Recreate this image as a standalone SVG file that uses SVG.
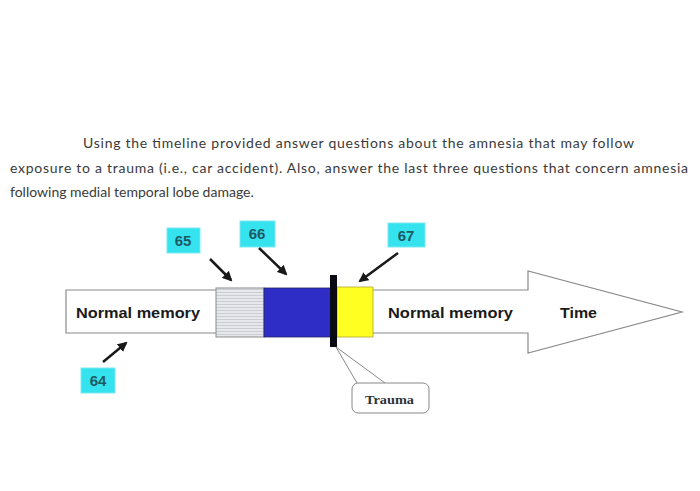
<svg xmlns="http://www.w3.org/2000/svg" width="700" height="491" viewBox="0 0 700 491">
<defs>
<style>
.intro{font-family:Lato,"Liberation Sans",sans-serif;font-size:14px;fill:#3a3a3a}
.lbl{font-family:"Liberation Sans",Arial,sans-serif;font-weight:bold;font-size:15px;fill:#1d5a63}
.tag{fill:#35e3ef;stroke:#7be9ef;stroke-width:1}
.big{font-family:"Liberation Sans",Arial,sans-serif;font-weight:bold;font-size:15px;fill:#1a1a1a}
.ptr{stroke:#1a1a1a;stroke-width:2.5;fill:none;marker-end:url(#ah)}
</style>
<marker id="ah" viewBox="0 0 10 10" refX="8" refY="5" markerWidth="4" markerHeight="4" orient="auto">
<path d="M0,0 L10,5 L0,10 z" fill="#1a1a1a"/>
</marker>
<pattern id="stripes" width="6" height="3" patternUnits="userSpaceOnUse">
<rect width="6" height="3" fill="#e6e8ec"/>
<line x1="0" y1="1.5" x2="6" y2="1.5" stroke="#c4c7cc" stroke-width="0.8"/>
</pattern>
</defs>
<rect width="700" height="491" fill="#ffffff"/>
<g id="intro">
<text class="intro" x="83" y="148" textLength="551" lengthAdjust="spacing">Using the timeline provided answer questions about the amnesia that may follow</text>
<text class="intro" x="10" y="173" textLength="678" lengthAdjust="spacing">exposure to a trauma (i.e., car accident).  Also, answer the last three questions that concern amnesia</text>
<text class="intro" x="10" y="197">following medial temporal lobe damage.</text>
</g>
<g id="timeline">
<path d="M66,290 L528,290 L528,271 L682,312 L528,353 L528,333 L66,333 Z" fill="#ffffff" stroke="#8a8a8a" stroke-width="1.2"/>
<text class="big" x="76" y="318" textLength="124" lengthAdjust="spacingAndGlyphs">Normal memory</text>
<text class="big" x="388" y="318" textLength="125" lengthAdjust="spacingAndGlyphs">Normal memory</text>
<text class="big" x="560" y="318" textLength="37" lengthAdjust="spacingAndGlyphs">Time</text>
</g>
<g id="retro-graded">
<rect x="216" y="288" width="48" height="49" fill="url(#stripes)" stroke="#8a8a8a" stroke-width="1"/>
</g>
<g id="retro-dense">
<rect x="264" y="288" width="67" height="49" fill="#2e2ec6" stroke="#222266" stroke-width="0.8"/>
</g>
<g id="antero">
<rect x="337" y="287" width="36" height="50" fill="#ffff22" stroke="#b0a830" stroke-width="0.8"/>
</g>
<g id="trauma-bar">
<rect x="330" y="275" width="7" height="72" fill="#0a0a14"/>
</g>
<g id="trauma">
<path d="M357,383 L336,347 L385,383" fill="none" stroke="#888" stroke-width="1"/>
<rect x="352" y="383" width="77" height="30" rx="6" fill="#ffffff" stroke="#888" stroke-width="1"/>
<text x="365" y="404" textLength="49" lengthAdjust="spacingAndGlyphs" style="font-family:'Liberation Serif',serif;font-weight:bold;font-size:13px;fill:#333">Trauma</text>
</g>
<g id="label-64">
<rect class="tag" x="81" y="368" width="34" height="25"/>
<text class="lbl" x="98" y="386" text-anchor="middle">64</text>
</g>
<g id="label-65">
<rect class="tag" x="167" y="228" width="33" height="25"/>
<text class="lbl" x="183" y="246" text-anchor="middle">65</text>
</g>
<g id="label-66">
<rect class="tag" x="240" y="221" width="35" height="26"/>
<text class="lbl" x="257" y="239" text-anchor="middle">66</text>
</g>
<g id="label-67">
<rect class="tag" x="388" y="223" width="37" height="24"/>
<text class="lbl" x="406" y="241" text-anchor="middle">67</text>
</g>
<g id="connectors">
<line class="ptr" x1="103" y1="362" x2="126" y2="343"/>
<line class="ptr" x1="210" y1="259" x2="231" y2="280"/>
<line class="ptr" x1="259" y1="248" x2="286" y2="274"/>
<line class="ptr" x1="398" y1="253" x2="360" y2="281"/>
</g>
</svg>
